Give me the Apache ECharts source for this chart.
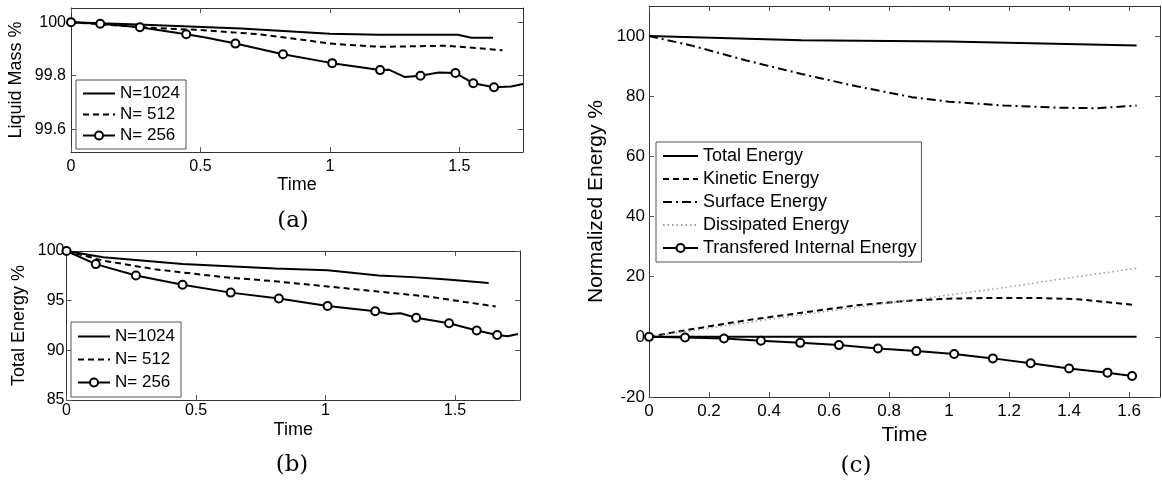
<!DOCTYPE html>
<html><head><meta charset="utf-8">
<script src="https://cdn.jsdelivr.net/npm/echarts@6/dist/echarts.min.js"></script>
<style>html,body{margin:0;padding:0;background:#fff}#c{width:1162px;height:493px}</style>
</head><body><div id="c"></div>
<script>
// ---------- Panel (a): Liquid Mass % ----------
const a_t1024 = [0, 0.259, 0.657, 1.0, 1.19, 1.494, 1.547, 1.63];
const a_v1024 = [100, 99.991, 99.976, 99.957, 99.953, 99.953, 99.942, 99.942];
const a_t512 = [0, 0.325, 0.5, 0.724, 0.883, 1.0, 1.19, 1.454, 1.587, 1.667];
const a_v512 = [100, 99.978, 99.971, 99.955, 99.936, 99.92, 99.908, 99.912, 99.902, 99.895];
const a_t256 = [0, 0.113, 0.266, 0.445, 0.525, 0.635, 0.819, 1.009, 1.194, 1.23, 1.29, 1.35, 1.42, 1.485, 1.554, 1.634, 1.70, 1.746];
const a_v256 = [100, 99.994, 99.981, 99.955, 99.942, 99.92, 99.88, 99.847, 99.821, 99.822, 99.795, 99.8, 99.812, 99.81, 99.772, 99.757, 99.76, 99.769];
const a_m256 = [1, 1, 1, 1, 0, 1, 1, 1, 1, 0, 0, 1, 0, 1, 1, 1, 0, 0];
const a_xTicks = [0, 0.5, 1, 1.5];
const a_yTicks = [99.6, 99.8, 100];

// ---------- Panel (b): Total Energy % ----------
const b_t1024 = [0, 0.142, 0.448, 0.806, 1.008, 1.205, 1.338, 1.471, 1.63];
const b_v1024 = [100, 99.38, 98.68, 98.23, 98.06, 97.54, 97.37, 97.12, 96.78];
const b_t512 = [0, 0.142, 0.341, 0.607, 0.806, 1.008, 1.205, 1.404, 1.537, 1.657];
const b_v512 = [100, 99.03, 98.16, 97.37, 96.95, 96.43, 95.91, 95.39, 94.87, 94.42];
const b_t256 = [0, 0.113, 0.268, 0.448, 0.634, 0.82, 1.008, 1.192, 1.245, 1.29, 1.35, 1.477, 1.584, 1.663, 1.703, 1.743];
const b_v256 = [100, 98.68, 97.54, 96.6, 95.81, 95.22, 94.46, 93.94, 93.66, 93.73, 93.28, 92.73, 92.0, 91.55, 91.41, 91.65];
const b_m256 = [1, 1, 1, 1, 1, 1, 1, 1, 0, 0, 1, 1, 1, 1, 0, 0];
const b_xTicks = [0, 0.5, 1, 1.5];
const b_yTicks = [85, 90, 95, 100];

// ---------- Panel (c): Normalized Energy % ----------
const c_tTotal = [0, 0.508, 1.0, 1.625];
const c_vTotal = [100, 98.6, 98.2, 96.9];
const c_tKin = [0, 0.14, 0.324, 0.508, 0.692, 0.876, 1.0, 1.12, 1.305, 1.43, 1.61];
const c_vKin = [0, 2.5, 5.5, 8.0, 10.5, 12.1, 12.7, 12.9, 12.9, 12.5, 10.7];
const c_tSurf = [0, 0.14, 0.324, 0.508, 0.692, 0.876, 1.0, 1.183, 1.367, 1.49, 1.625];
const c_vSurf = [100, 96.9, 91.9, 87.4, 83.3, 79.7, 78.2, 76.9, 76.2, 76.0, 76.9];
const c_tDiss = [0, 0.2, 0.4, 0.6, 0.8, 1.0, 1.2, 1.4, 1.625];
const c_vDiss = [0, 2.9, 5.8, 8.6, 11.3, 13.9, 16.6, 19.6, 22.8];
const c_tInt = [0, 0.12, 0.25, 0.373, 0.504, 0.633, 0.763, 0.891, 1.017, 1.146, 1.272, 1.4, 1.528, 1.61];
const c_vInt = [0, -0.2, -0.55, -1.3, -2.0, -2.75, -3.86, -4.74, -5.73, -7.16, -8.8, -10.5, -11.9, -13.0];
const c_tZero = [0, 1.625];
const c_vZero = [0, 0];
const c_xTicks = [0, 0.2, 0.4, 0.6, 0.8, 1, 1.2, 1.4, 1.6];
const c_yTicks = [-20, 0, 20, 40, 60, 80, 100];

const SANS = 'Liberation Sans, Arial, sans-serif';
const SERIF = 'DejaVu Serif, serif';
const AX = '#333';

function pts(ts, vs, marks) {
  return ts.map((t, i) => (marks && !marks[i]) ? { value: [t, vs[i]], symbol: 'none' } : [t, vs[i]]);
}

function xAx(grid, min, max, ticks, o) {
  return [
    { type: 'value', gridIndex: grid, position: 'bottom', min: min, max: max,
      name: 'Time', nameLocation: 'middle', nameGap: o.nameGap,
      nameTextStyle: { fontFamily: SANS, fontSize: o.nameSize, color: '#000' },
      axisLine: { show: true, onZero: false, lineStyle: { color: AX, width: 1 } },
      axisTick: { show: true, inside: true, length: 5, customValues: ticks, lineStyle: { color: '#555' } },
      axisLabel: { show: true, customValues: ticks, margin: o.margin, fontFamily: SANS, fontSize: o.size, color: '#000' },
      splitLine: { show: false } },
    { type: 'value', gridIndex: grid, position: 'top', min: min, max: max,
      axisLine: { show: true, onZero: false, lineStyle: { color: AX, width: 1 } },
      axisTick: { show: true, inside: true, length: 5, customValues: ticks, lineStyle: { color: '#555' } },
      axisLabel: { show: false }, splitLine: { show: false } }
  ];
}
function yAx(grid, min, max, ticks, o) {
  return [
    { type: 'value', gridIndex: grid, position: 'left', min: min, max: max,
      name: o.name, nameLocation: 'middle', nameGap: o.nameGap,
      nameTextStyle: { fontFamily: SANS, fontSize: o.nameSize, color: '#000' },
      axisLine: { show: true, onZero: false, lineStyle: { color: AX, width: 1 } },
      axisTick: { show: true, inside: true, length: 5, customValues: ticks, lineStyle: { color: '#555' } },
      axisLabel: { show: true, customValues: ticks, margin: o.margin, fontFamily: SANS, fontSize: o.size, color: '#000' },
      splitLine: { show: false } },
    { type: 'value', gridIndex: grid, position: 'right', min: min, max: max,
      axisLine: { show: true, onZero: false, lineStyle: { color: AX, width: 1 } },
      axisTick: { show: true, inside: true, length: 5, customValues: ticks, lineStyle: { color: '#555' } },
      axisLabel: { show: false }, splitLine: { show: false } }
  ];
}

function line(name, xi, yi, data, style, marker) {
  return {
    type: 'line', name: name, xAxisIndex: xi, yAxisIndex: yi, data: data,
    symbol: marker ? 'emptyCircle' : 'none', symbolSize: 8, showAllSymbol: true,
    itemStyle: { color: '#000', borderWidth: 2 },
    lineStyle: Object.assign({ color: '#000', width: 2 }, style),
    animation: false, z: 3, silent: true
  };
}

function legendItems(names, markerFlags) {
  return names.map((n, i) => markerFlags[i] ? { name: n } : { name: n, itemStyle: { opacity: 0 } });
}

function legend(names, flags, o) {
  return {
    data: legendItems(names, flags), orient: 'vertical', left: o.left, top: o.top,
    itemWidth: o.iw, itemHeight: 10, itemGap: o.gap, padding: o.pad,
    borderColor: '#555', borderWidth: 1, backgroundColor: '#fff',
    textStyle: { fontFamily: SANS, fontSize: o.size, color: '#000', lineHeight: o.lh },
    inactiveColor: '#000', selectedMode: false, z: 10
  };
}

const DASH = { type: [6, 4] };
const DASHDOT = { type: [9, 4, 2, 4] };
const DOT = { type: [1.5, 3], color: '#9a9a9a', width: 1.5 };

const option = {
  backgroundColor: '#fff',
  animation: false,
  grid: [
    { left: 71, top: 8, width: 452, height: 144, outerBoundsMode: 'none' },
    { left: 66.5, top: 251, width: 453.5, height: 149, outerBoundsMode: 'none' },
    { left: 649, top: 6, width: 511, height: 391, outerBoundsMode: 'none' }
  ],
  xAxis: [].concat(
    xAx(0, 0, 1.746, a_xTicks, { nameGap: 24, nameSize: 18, size: 16, margin: 7 }),
    xAx(1, 0, 1.751, b_xTicks, { nameGap: 21, nameSize: 18, size: 16, margin: 3 }),
    xAx(2, 0, 1.703, c_xTicks, { nameGap: 24, nameSize: 21, size: 17, margin: 6 })
  ),
  yAxis: [].concat(
    yAx(0, 99.515, 100.053, a_yTicks, { name: 'Liquid Mass %', nameGap: 46, nameSize: 18, size: 16, margin: 5 }),
    yAx(1, 85, 100, b_yTicks, { name: 'Total Energy %', nameGap: 38, nameSize: 18, size: 16, margin: 2 }),
    yAx(2, -20, 110, c_yTicks, { name: 'Normalized Energy %', nameGap: 42, nameSize: 21, size: 17, margin: 4 })
  ),
  legend: [
    legend(['N=1024', 'N= 512', 'N= 256'], [0, 0, 1], { left: 76, top: 80, iw: 32, gap: 2, pad: [4, 6, 4, 6], size: 17, lh: 19 }),
    legend(['N=1024', 'N= 512', 'N= 256'], [0, 0, 1], { left: 71, top: 322, iw: 32, gap: 4, pad: [5, 6, 5, 6], size: 17, lh: 19 }),
    legend(['Total Energy', 'Kinetic Energy', 'Surface Energy', 'Dissipated Energy', 'Transfered Internal Energy'], [0, 0, 0, 0, 1],
      { left: 656, top: 142, iw: 35, gap: 3, pad: [4, 5, 4, 6], size: 18, lh: 20 })
  ],
  series: [
    line('N=1024', 0, 0, pts(a_t1024, a_v1024), {}, false),
    line('N= 512', 0, 0, pts(a_t512, a_v512), DASH, false),
    line('N= 256', 0, 0, pts(a_t256, a_v256, a_m256), {}, true),
    line('N=1024', 2, 2, pts(b_t1024, b_v1024), {}, false),
    line('N= 512', 2, 2, pts(b_t512, b_v512), DASH, false),
    line('N= 256', 2, 2, pts(b_t256, b_v256, b_m256), {}, true),
    line('Total Energy', 4, 4, pts(c_tTotal, c_vTotal), {}, false),
    line('Kinetic Energy', 4, 4, pts(c_tKin, c_vKin), DASH, false),
    line('Surface Energy', 4, 4, pts(c_tSurf, c_vSurf), DASHDOT, false),
    line('Dissipated Energy', 4, 4, pts(c_tDiss, c_vDiss), DOT, false),
    line('Transfered Internal Energy', 4, 4, pts(c_tInt, c_vInt), {}, true),
    line('', 4, 4, pts(c_tZero, c_vZero), {}, false)
  ],
  graphic: [
    { type: 'text', x: 293, y: 221, style: { text: '(a)', fontFamily: SERIF, fontSize: 23, fill: '#000', align: 'center', verticalAlign: 'middle' } },
    { type: 'text', x: 292, y: 465, style: { text: '(b)', fontFamily: SERIF, fontSize: 23, fill: '#000', align: 'center', verticalAlign: 'middle' } },
    { type: 'text', x: 856, y: 466, style: { text: '(c)', fontFamily: SERIF, fontSize: 23, fill: '#000', align: 'center', verticalAlign: 'middle' } }
  ]
};

const chart = echarts.init(document.getElementById('c'), null, { renderer: 'canvas', width: 1162, height: 493 });
chart.setOption(option);
</script></body></html>
